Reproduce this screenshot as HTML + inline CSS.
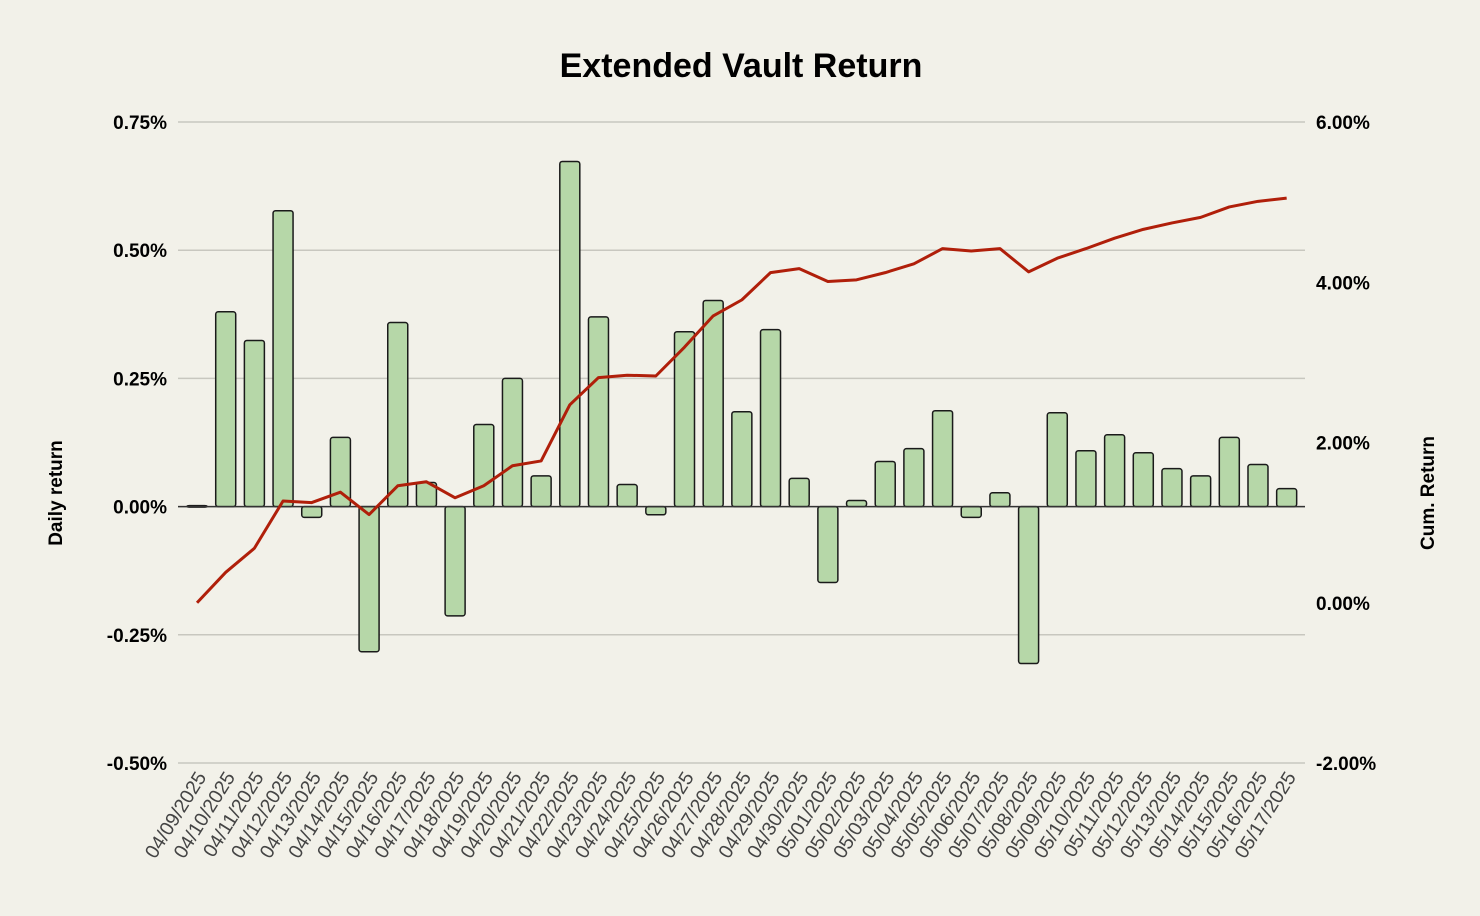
<!DOCTYPE html>
<html><head><meta charset="utf-8"><style>
html,body{margin:0;padding:0;background:#f2f1e9;}
svg{display:block;font-family:"Liberation Sans",sans-serif;}
</style></head><body>
<svg id="chart" width="1480" height="916">
<rect width="1480" height="916" fill="#f2f1e9"/>
<text x="741" y="77" text-anchor="middle" font-size="34" font-weight="bold" fill="#000">Extended Vault Return</text>
<g id="grid"></g><g id="bars"></g><g id="line"></g><g id="axes"></g>
<text transform="translate(62,493) rotate(-90)" text-anchor="middle" font-size="19" font-weight="bold">Daily return</text>
<text transform="translate(1434,493) rotate(-90)" text-anchor="middle" font-size="19" font-weight="bold">Cum. Return</text>
</svg>
<script>
const categories=["04/09/2025","04/10/2025","04/11/2025","04/12/2025","04/13/2025","04/14/2025","04/15/2025","04/16/2025","04/17/2025","04/18/2025","04/19/2025","04/20/2025","04/21/2025","04/22/2025","04/23/2025","04/24/2025","04/25/2025","04/26/2025","04/27/2025","04/28/2025","04/29/2025","04/30/2025","05/01/2025","05/02/2025","05/03/2025","05/04/2025","05/05/2025","05/06/2025","05/07/2025","05/08/2025","05/09/2025","05/10/2025","05/11/2025","05/12/2025","05/13/2025","05/14/2025","05/15/2025","05/16/2025","05/17/2025"];
const dailyReturn=[0.002,0.380,0.324,0.577,-0.021,0.135,-0.283,0.359,0.047,-0.213,0.160,0.250,0.060,0.673,0.370,0.043,-0.016,0.341,0.402,0.185,0.345,0.055,-0.148,0.012,0.088,0.113,0.187,-0.021,0.027,-0.306,0.183,0.109,0.140,0.105,0.074,0.060,0.135,0.082,0.035];
const cumReturn=[0.00,0.38,0.68,1.27,1.25,1.38,1.10,1.46,1.51,1.31,1.46,1.71,1.77,2.47,2.81,2.84,2.83,3.19,3.58,3.78,4.12,4.17,4.01,4.03,4.12,4.23,4.42,4.39,4.42,4.13,4.30,4.42,4.55,4.66,4.74,4.81,4.94,5.01,5.05];
const leftTicks=[0.75,0.50,0.25,0.00,-0.25,-0.50];
const rightTicks=[6,4,2,0,-2];
const NS="http://www.w3.org/2000/svg";
const X0=182.7,X1=1301,PL=178,PR=1305,YT=122,YB=763;
const band=(X1-X0)/categories.length;
const xc=i=>X0+band*(i+0.5);
const yL=v=>YT+(0.75-v)/1.25*(YB-YT);
const yR=v=>YT+(6-v)/8*(YB-YT);
function mk(t,a,p){const e=document.createElementNS(NS,t);for(const k in a)e.setAttribute(k,a[k]);p.appendChild(e);return e;}
const grid=document.getElementById('grid'),bars=document.getElementById('bars'),line=document.getElementById('line'),axes=document.getElementById('axes');
leftTicks.forEach(v=>{
  const g=mk('line',{x1:PL,x2:PR,y1:yL(v),y2:yL(v),stroke:'#c8c7bf','stroke-width':1.5},grid);
  
  
  const t=mk('text',{x:167,y:yL(v)+7,'text-anchor':'end','font-size':19,'font-weight':'bold'},axes);
  t.textContent=v.toFixed(2)+'%';
  
  
});
rightTicks.forEach(v=>{
  const t=mk('text',{x:1316,y:yR(v)+7,'font-size':19,'font-weight':'bold'},axes);
  t.textContent=v.toFixed(2)+'%';
  
  
});
const bw=20;
dailyReturn.forEach((v,i)=>{
  const y0=yL(0),y1=yL(v);
  const r=mk('rect',{x:xc(i)-bw/2,y:Math.min(y0,y1),width:bw,height:Math.max(Math.abs(y1-y0),1.5),fill:'#b6d7a8',stroke:'#1a1a1a','stroke-width':1.5,rx:2.5},bars);
  
  
});
const z=mk('line',{x1:PL,x2:PR,y1:yL(0),y2:yL(0),stroke:'#333','stroke-width':1.5},bars);


const pl=mk('polyline',{points:cumReturn.map((v,i)=>xc(i)+','+yR(v)).join(' '),fill:'none',stroke:'#b01f0a','stroke-width':3,'stroke-linejoin':'round'},line);


categories.forEach((c,i)=>{
  const t=mk('text',{transform:'translate('+(xc(i)+10)+',777) rotate(-58)','text-anchor':'end','font-size':19.5,fill:'#444'},axes);
  t.textContent=c;
  
  
});
</script>
</body></html>
